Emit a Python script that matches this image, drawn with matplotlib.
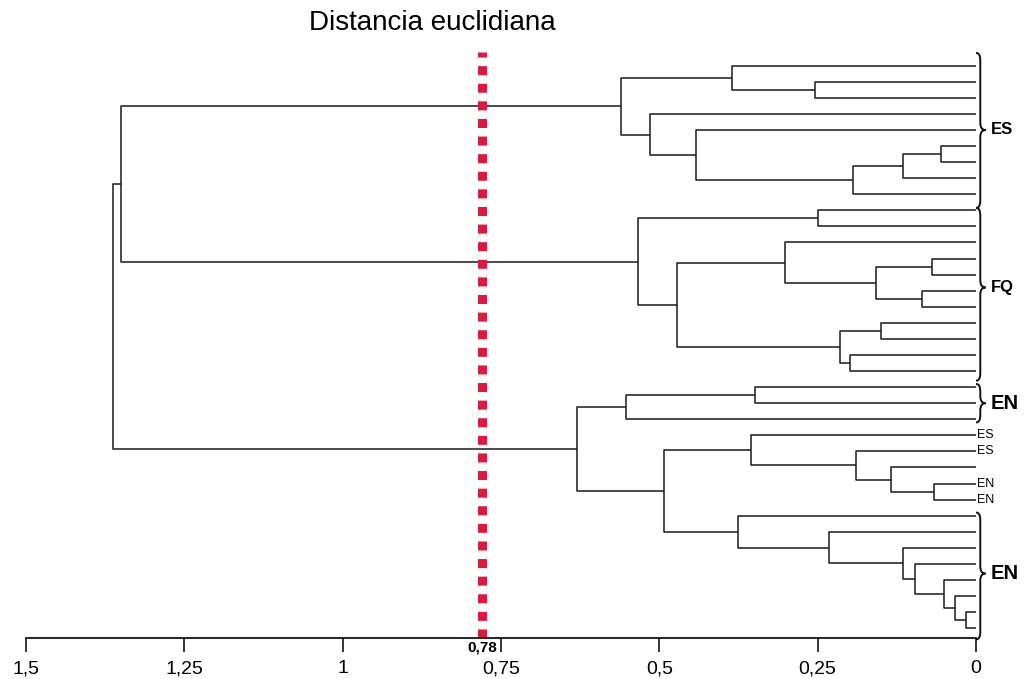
import matplotlib
matplotlib.use('Agg')
import matplotlib.pyplot as plt
from matplotlib.path import Path
from matplotlib.patches import PathPatch

# 36 muestras, ordenadas de arriba a abajo
n_leaves = 36

# uniones tipo linkage: (hijo_a, hijo_b, distancia); nodo nuevo = n_leaves + indice
merges = [
    # grupo ES
    (5, 6, 0.055), (36, 7, 0.116), (37, 8, 0.194), (4, 38, 0.442),
    (3, 39, 0.514), (1, 2, 0.255), (0, 41, 0.385), (42, 40, 0.560),
    # grupo FQ
    (9, 10, 0.250), (12, 13, 0.070), (14, 15, 0.086), (45, 46, 0.158),
    (11, 47, 0.301), (16, 17, 0.150), (18, 19, 0.199), (49, 50, 0.2145),
    (48, 51, 0.472), (44, 52, 0.534),
    # grupo EN + mezcla
    (20, 21, 0.349), (54, 22, 0.552), (26, 27, 0.067), (25, 56, 0.135),
    (24, 57, 0.189), (23, 58, 0.355), (34, 35, 0.016), (33, 60, 0.033),
    (32, 61, 0.050), (31, 62, 0.096), (30, 63, 0.116), (29, 64, 0.232),
    (28, 65, 0.376), (59, 66, 0.492), (55, 67, 0.630),
    # uniones finales
    (43, 53, 1.350), (69, 68, 1.362),
]

cut_value = 0.78
cut_label = '0,78'

xticks = [1.5, 1.25, 1.0, 0.75, 0.5, 0.25, 0.0]
xtick_labels = ['1,5', '1,25', '1', '0,75', '0,5', '0,25', '0']

# llaves de grupo: (etiqueta, y_inicio, y_fin, y_punta, tamaño)
groups = [
    ('ES', -0.8, 8.85, 4.0, 12),
    ('FQ', 8.85, 19.6, 13.8, 12),
    ('EN', 19.8, 22.2, 21.0, 14.5),
    ('EN', 27.8, 35.7, 31.6, 14.5),
]
# etiquetas sueltas de hojas
leaf_labels = {23: 'ES', 24: 'ES', 26: 'EN', 27: 'EN'}

fig = plt.figure(figsize=(10.30, 6.79), dpi=100)
ax = fig.add_axes([26 / 1030, 1 - 638 / 679, 950 / 1030, 598 / 679])

ypos = {i: float(i) for i in range(n_leaves)}
hgt = {i: 0.0 for i in range(n_leaves)}
for k, (a, b, h) in enumerate(merges):
    node = n_leaves + k
    ax.plot([hgt[a], h, h, hgt[b]], [ypos[a], ypos[a], ypos[b], ypos[b]],
            color='#1a1a1a', lw=1.1, solid_capstyle='butt')
    ypos[node] = (ypos[a] + ypos[b]) / 2
    hgt[node] = h

ax.set_xlim(1.5, 0)
ax.set_ylim(35.61, -1.6)

# linea de corte
ax.plot([cut_value, cut_value], [35.61, -0.85], color='#d81b3f', lw=6.5,
        dashes=(1.0, 0.95), solid_capstyle='butt', dash_capstyle='butt')
ax.annotate(cut_label, xy=(cut_value, 0), xycoords=('data', 'axes fraction'),
            xytext=(0, -1.5), textcoords='offset points', ha='center', va='top',
            fontsize=11, fontweight='bold',
            family=['Liberation Sans Narrow', 'Liberation Sans', 'DejaVu Sans'])


def brace(y0, y1, ytip, w=0.015, r=0.45):
    u = -w
    m = -w * 0.45
    verts = [(0, y0), (m, y0), (m, y0 + r),
             (m, ytip - r),
             (m, ytip), (u, ytip),
             (m, ytip), (m, ytip + r),
             (m, y1 - r),
             (m, y1), (0, y1)]
    codes = [Path.MOVETO, Path.CURVE3, Path.CURVE3,
             Path.LINETO,
             Path.CURVE3, Path.CURVE3,
             Path.CURVE3, Path.CURVE3,
             Path.LINETO,
             Path.CURVE3, Path.CURVE3]
    ax.add_patch(PathPatch(Path(verts, codes), fill=False, lw=1.4,
                           edgecolor='#111111', clip_on=False))


for name, y0, y1, ytip, size in groups:
    brace(y0, y1, ytip)
    ax.text(-0.023, ytip, name, ha='left', va='center', fontsize=size,
            fontweight='bold', family=['Liberation Sans', 'DejaVu Sans'],
            clip_on=False)

for i, name in leaf_labels.items():
    ax.text(-0.001, ypos[i], name, ha='left', va='center', fontsize=9,
            family=['Liberation Sans', 'DejaVu Sans'], clip_on=False)

for s in ['top', 'left', 'right']:
    ax.spines[s].set_visible(False)
ax.spines['bottom'].set_linewidth(1.2)
ax.set_yticks([])
ax.set_xticks(xticks)
ax.set_xticklabels(xtick_labels,
                   family=['Liberation Sans Narrow', 'Liberation Sans', 'DejaVu Sans'],
                   fontsize=14)
ax.tick_params(axis='x', direction='out', length=10, width=1.1, pad=6)

fig.text(432 / 1030, 1 - 23 / 679, 'Distancia euclidiana', ha='center',
         va='center', fontsize=20, family=['Liberation Sans', 'DejaVu Sans'])

fig.savefig('out.png', dpi=100)
